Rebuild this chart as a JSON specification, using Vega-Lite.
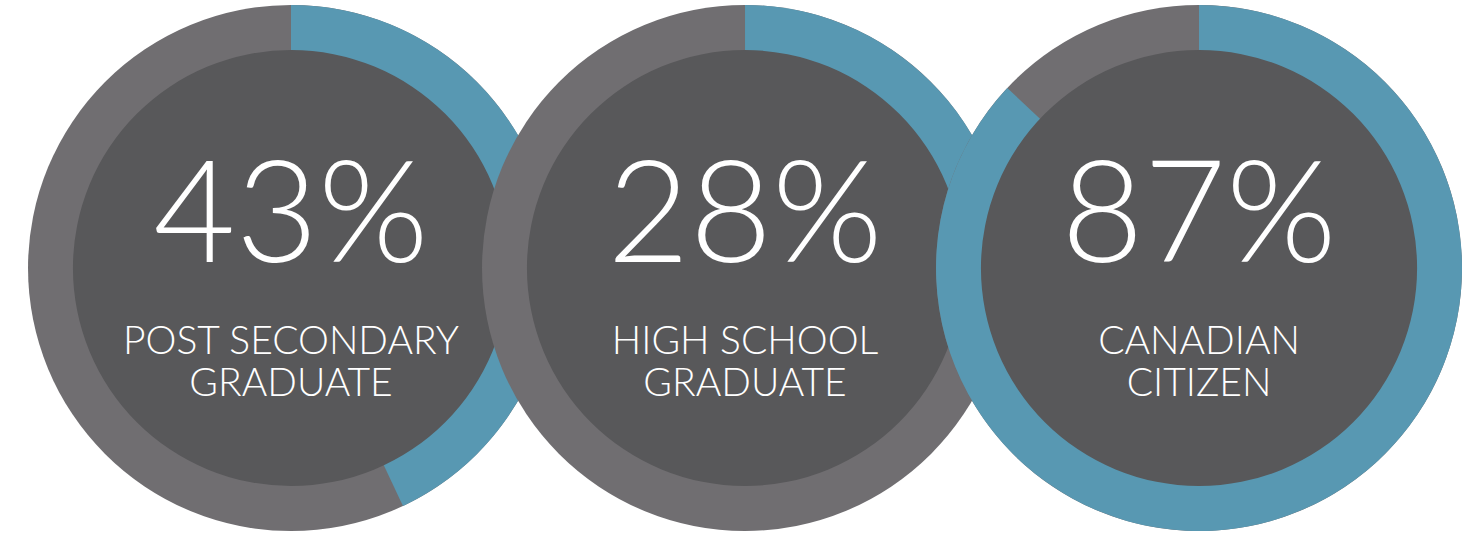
{
  "$schema": "https://vega.github.io/schema/vega-lite/v6.json",
  "width": 1477,
  "height": 533,
  "autosize": {"type": "fit", "contains": "padding"},
  "padding": {"top": 3, "left": 0, "right": 0, "bottom": 0},
  "background": "white",
  "config": {"view": {"stroke": null}},
  "data": {
    "values": [
      {"donut": 0, "pct": 0.43, "label": "POST SECONDARY\nGRADUATE"},
      {"donut": 1, "pct": 0.28, "label": "HIGH SCHOOL\nGRADUATE"},
      {"donut": 2, "pct": 0.87, "label": "CANADIAN\nCITIZEN"}
    ]
  },
  "encoding": {
    "x": {"field": "donut", "type": "quantitative", "scale": {"domain": [-0.641, 2.6123]}, "axis": null}
  },
  "layer": [
    {"transform": [{"filter": "datum.donut == 0"}], "mark": {"type": "arc", "radius": 263, "theta": 0, "theta2": 6.2832, "color": "#706e71"}},
    {"transform": [{"filter": "datum.donut == 0"}], "mark": {"type": "arc", "radius": 263, "color": "#5898b2"},
     "encoding": {"theta": {"field": "pct", "type": "quantitative", "scale": {"domain": [0, 1], "range": [0, 6.2832]}}}},
    {"transform": [{"filter": "datum.donut == 0"}], "mark": {"type": "arc", "radius": 218, "theta": 0, "theta2": 6.2832, "color": "#58585a"}},
    {"transform": [{"filter": "datum.donut == 1"}], "mark": {"type": "arc", "radius": 263, "theta": 0, "theta2": 6.2832, "color": "#706e71"}},
    {"transform": [{"filter": "datum.donut == 1"}], "mark": {"type": "arc", "radius": 263, "color": "#5898b2"},
     "encoding": {"theta": {"field": "pct", "type": "quantitative", "scale": {"domain": [0, 1], "range": [0, 6.2832]}}}},
    {"transform": [{"filter": "datum.donut == 1"}], "mark": {"type": "arc", "radius": 218, "theta": 0, "theta2": 6.2832, "color": "#58585a"}},
    {"transform": [{"filter": "datum.donut == 2"}], "mark": {"type": "arc", "radius": 263, "theta": 0, "theta2": 6.2832, "color": "#706e71"}},
    {"transform": [{"filter": "datum.donut == 2"}], "mark": {"type": "arc", "radius": 263, "color": "#5898b2"},
     "encoding": {"theta": {"field": "pct", "type": "quantitative", "scale": {"domain": [0, 1], "range": [0, 6.2832]}}}},
    {"transform": [{"filter": "datum.donut == 2"}], "mark": {"type": "arc", "radius": 218, "theta": 0, "theta2": 6.2832, "color": "#58585a"}},
    {"mark": {"type": "text", "font": "Lato", "fontWeight": 300, "fontSize": 142, "color": "white", "baseline": "alphabetic", "align": "center", "dy": -6},
     "encoding": {"text": {"field": "pct", "type": "quantitative", "format": ".0%"}}},
    {"mark": {"type": "text", "font": "Lato", "fontWeight": 300, "fontSize": 39, "color": "white", "baseline": "alphabetic", "align": "center", "dy": 86, "lineBreak": "\n", "lineHeight": 42},
     "encoding": {"text": {"field": "label", "type": "nominal"}}}
  ]
}
